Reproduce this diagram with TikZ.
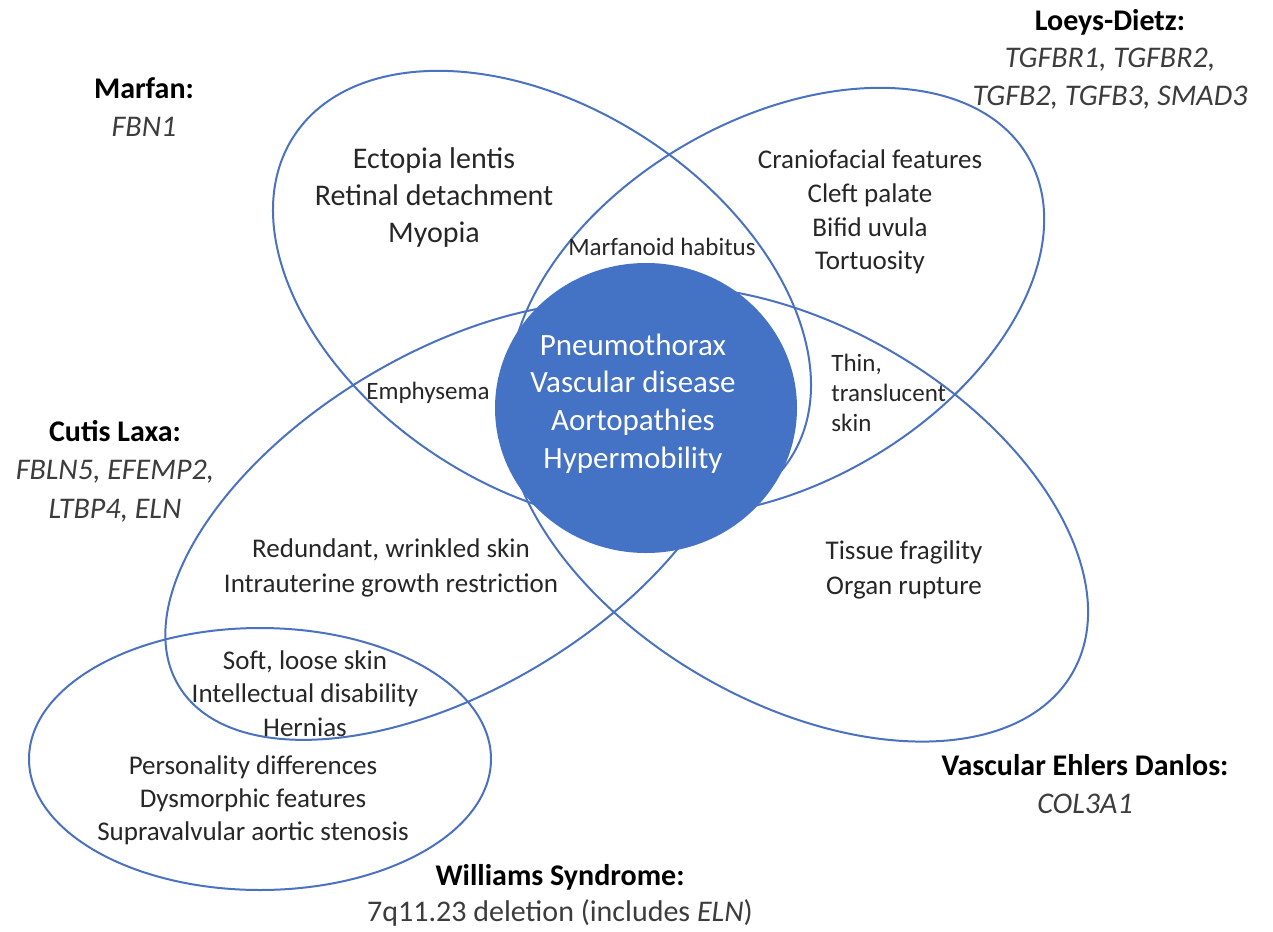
\documentclass[tikz,border=0pt]{standalone}
\usepackage{fontspec}
\setmainfont{Carlito}
\usetikzlibrary{shapes.geometric}
\definecolor{ln}{HTML}{4A72C0}
\definecolor{fillc}{HTML}{4472C4}
\definecolor{txt}{HTML}{262626}
\definecolor{gene}{HTML}{3C3C3C}
\tikzset{
  ell/.style={draw=ln, line width=1pt},
  lab/.style={align=center, inner sep=0pt, text=black, font=\fontsize{15}{19}\selectfont},
  big/.style={align=center, inner sep=0pt, text=txt, font=\fontsize{15}{18.5}\selectfont},
  mid/.style={align=center, inner sep=0pt, text=txt, font=\fontsize{13.5}{17}\selectfont},
  small/.style={align=center, inner sep=0pt, text=txt, font=\fontsize{12.5}{15}\selectfont},
  core/.style={align=center, inner sep=0pt, text=white, font=\fontsize{15.5}{18.85}\selectfont},
}
\newcommand{\gn}[1]{\textcolor{gene}{\textit{#1}}}
\begin{document}
\begin{tikzpicture}[x=0.5pt,y=-0.5pt]
\useasboundingbox (0,0) rectangle (1273,931);
% ellipses
\draw[ell, rotate around={-33:(542,297.5)}] (542,297.5) ellipse [x radius=296, y radius=190];
\draw[ell, rotate around={30:(777,302)}] (777,302) ellipse [x radius=290, y radius=182];
\draw[ell, rotate around={-30:(797,514)}] (797,514) ellipse [x radius=318, y radius=188];
\draw[ell, rotate around={31:(453,521)}] (453,521) ellipse [x radius=320, y radius=168];
\draw[ell] (260,759) ellipse [x radius=231, y radius=131];
% central disc
\node[ellipse, fill=fillc, minimum width=151pt, minimum height=145pt, inner sep=0pt, draw=none] (disc) at (646,408) {};
% labels
\node[lab] (marfan) at (144,107) {\textbf{Marfan:}\\\gn{FBN1}};
\node[lab, font=\fontsize{15}{18.75}\selectfont] (loeys) at (1110,59) {\textbf{Loeys-Dietz:}\\\gn{TGFBR1, TGFBR2,}\\\gn{TGFB2, TGFB3, SMAD3}};
\node[lab, font=\fontsize{15}{19.25}\selectfont] (cutis) at (115,471) {\textbf{Cutis Laxa:}\\\gn{FBLN5, EFEMP2,}\\\gn{LTBP4, ELN}};
\node[lab] (veds) at (1085,784) {\textbf{Vascular Ehlers Danlos:}\\\gn{COL3A1}};
\node[lab, font=\fontsize{15}{18}\selectfont] (williams) at (560,895) {\textbf{Williams Syndrome:}\\\textcolor{gene}{7q11.23 deletion (includes \textit{ELN})}};
% contents
\node[big] (ectopia) at (434,197.5) {Ectopia lentis\\Retinal detachment\\Myopia};
\node[small] (marfanoid) at (662,247) {Marfanoid habitus};
\node[mid, font=\fontsize{13.5}{16.85}\selectfont] (cranio) at (870,212) {Craniofacial features\\Cleft palate\\Bifid uvula\\Tortuosity};
\node[core] (corefeat) at (633,403.5) {Pneumothorax\\Vascular disease\\Aortopathies\\Hypermobility};
\node[small] (emph) at (428,393) {Emphysema};
\node[small, align=left, anchor=west] (thin) at (831,393) {Thin,\\translucent\\skin};
\node[mid, font=\fontsize{13.5}{17.5}\selectfont] (redund) at (391,567.5) {Redundant, wrinkled skin\\Intrauterine growth restriction};
\node[mid, font=\fontsize{13.5}{17.5}\selectfont] (tissue) at (904,569.5) {Tissue fragility\\Organ rupture};
\node[mid, font=\fontsize{13.5}{16.75}\selectfont] (soft) at (305,693.5) {Soft, loose skin\\Intellectual disability\\Hernias};
\node[mid, font=\fontsize{13.5}{16.5}\selectfont] (pers) at (253,800) {Personality differences\\Dysmorphic features\\Supravalvular aortic stenosis};
\end{tikzpicture}
\end{document}
